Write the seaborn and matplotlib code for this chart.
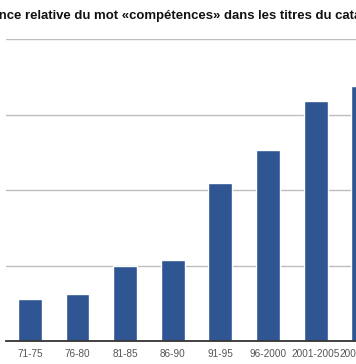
import matplotlib
matplotlib.use("Agg")
import matplotlib.pyplot as plt
import seaborn as sns
import pandas as pd

periods = ["71-75", "76-80", "81-85", "86-90", "91-95", "96-2000",
           "2001-2005", "2006-2010"]
values = [0.56, 0.63, 0.99, 1.07, 2.10, 2.53, 3.18, 3.38]
title = "Fréquence relative du mot «compétences» dans les titres du catalogue"

df = pd.DataFrame({"periode": periods, "freq": values})

sns.set_style("white")
plt.rcParams["font.family"] = ["Liberation Sans", "DejaVu Sans"]

fig = plt.figure(figsize=(3.56, 3.64), dpi=100)
W, H = 356, 364
left_px, base_px, top_px, step = 6.2, 341.3, 39.0, 47.6
n = len(periods) + 1
ax = fig.add_axes([left_px / W, (H - base_px) / H,
                   n * step / W, (base_px - top_px) / H])

sns.barplot(data=df, x="periode", y="freq", color="#2f5593",
            saturation=1, width=0.5, ax=ax, zorder=3)
ax.set_xlim(-0.5, n - 0.5)
ax.set_ylim(0, 4.0)
ax.set_yticks([1, 2, 3, 4])
ax.yaxis.grid(True, color="#bdbdbd", linewidth=1.0, zorder=0)
ax.set_yticklabels([])
ax.tick_params(axis="y", length=0)
ax.tick_params(axis="x", length=0, pad=5.5, labelsize=7.2, labelcolor="#555555")
ax.set_xlabel("")
ax.set_ylabel("")
for s in ["top", "right", "left"]:
    ax.spines[s].set_visible(False)
ax.spines["bottom"].set_color("#333333")
ax.spines["bottom"].set_linewidth(1.3)
ax.spines["bottom"].set_zorder(4)

fig.text(-45 / W, 1 - 15.5 / H, title, ha="left", va="center",
         fontsize=9.45, fontweight="bold", color="#111111")

fig.savefig("out.png", dpi=100)
